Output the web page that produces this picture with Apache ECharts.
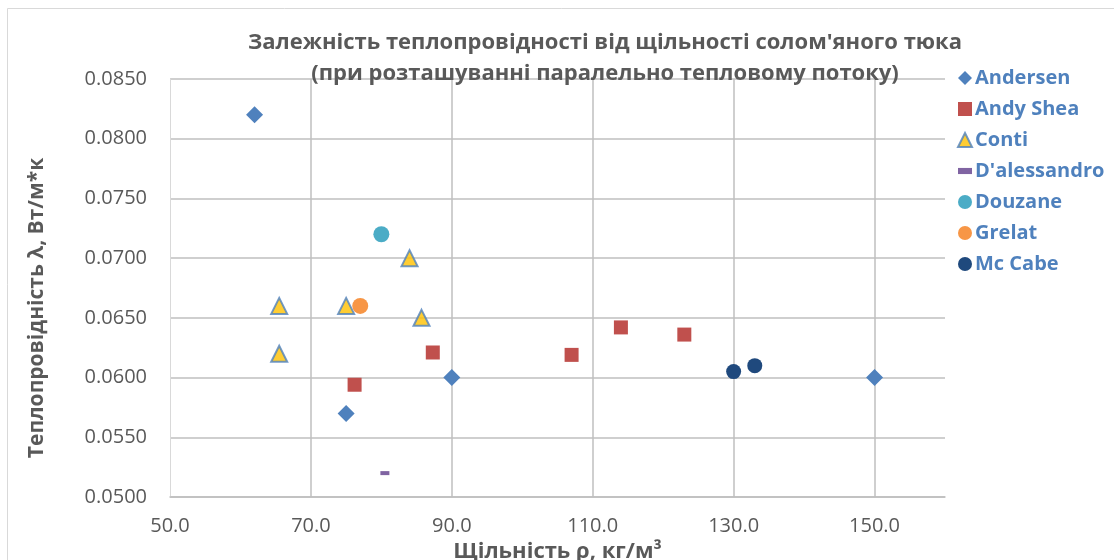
<!DOCTYPE html>
<html>
<head>
<meta charset="utf-8">
<script src="https://cdn.jsdelivr.net/npm/echarts@6/dist/echarts.min.js"></script>
<style>
html,body{margin:0;padding:0;background:#fff;}
#chart{width:1114px;height:560px;}
</style>
</head>
<body>
<div id="chart"></div>
<script>
const andersen = [[62, 0.0820], [75, 0.0570], [90, 0.0600], [150, 0.0600]];
const andyShea = [[76.2, 0.0594], [87.3, 0.0621], [107, 0.0619], [114, 0.0642], [123, 0.0636]];
const conti = [[65.5, 0.0660], [65.5, 0.0620], [75, 0.0660], [84, 0.0700], [85.7, 0.0650]];
const dalessandro = [[80.5, 0.0520]];
const douzane = [[80, 0.0720]];
const grelat = [[77, 0.0660]];
const mcCabe = [[130, 0.0605], [133, 0.0610]];

const titleLines = ["Залежність теплопровідності від щільності солом'яного тюка", "(при розташуванні паралельно тепловому потоку)"];
const xName = "Щільність ρ, кг/м³";
const yName = "Теплопровідність λ, Вт/м*к";

const font = '"Open Sans", sans-serif';
const chart = echarts.init(document.getElementById('chart'), null, {renderer: 'canvas'});

const mk = (name, data, symbol, size, color, extra) => Object.assign({
  name, type: 'scatter', data, symbol, symbolSize: size,
  itemStyle: {color, opacity: 1}, emphasis: {disabled: true}
}, extra || {});

chart.setOption({
  animation: false,
  backgroundColor: '#fff',
  graphic: [{
    type: 'rect', shape: {x: 7.5, y: 8.5, width: 1200, height: 700},
    style: {fill: 'none', stroke: '#D9D9D9', lineWidth: 1}, silent: true
  }],
  title: {
    text: titleLines.join('\n'),
    left: 600, textAlign: 'center', top: 22,
    textStyle: {fontFamily: font, fontWeight: 'bold', fontSize: 22, color: '#595959', lineHeight: 31}
  },
  legend: {
    orient: 'vertical', left: 952, top: 63, itemGap: 11, itemWidth: 14, itemHeight: 14,
    textStyle: {fontFamily: font, fontWeight: 'bold', fontSize: 20, color: '#4F81BD', padding: [0,0,0,-2]},
    data: [
      {name: 'Andersen', icon: 'diamond'},
      {name: 'Andy Shea', icon: 'rect'},
      {name: 'Conti', icon: 'triangle'},
      {name: "D'alessandro", icon: 'path://M0,0H8V3.5H0Z'},
      {name: 'Douzane', icon: 'circle'},
      {name: 'Grelat', icon: 'circle'},
      {name: 'Mc Cabe', icon: 'circle'}
    ]
  },
  grid: {left: 170, right: 169, top: 79, bottom: 63, containLabel: false, outerBoundsMode: 'none'},
  xAxis: {
    type: 'value', min: 50, max: 160, interval: 20,
    name: xName, nameLocation: 'middle', nameGap: 35,
    nameTextStyle: {fontFamily: font, fontWeight: 'bold', fontSize: 22, color: '#595959'},
    axisLine: {show: true, lineStyle: {color: '#BFBFBF', width: 1.5}},
    axisTick: {show: false},
    axisLabel: {margin: 19, fontFamily: font, fontSize: 20, color: '#595959', showMaxLabel: false,
      formatter: v => v.toFixed(1)},
    splitLine: {show: true, showMinLine: false, showMaxLine: false, lineStyle: {color: '#BFBFBF', width: 1.5}}
  },
  yAxis: {
    type: 'value', min: 0.05, max: 0.085, interval: 0.005,
    name: yName, nameLocation: 'middle', nameGap: 122,
    nameTextStyle: {fontFamily: font, fontWeight: 'bold', fontSize: 21, color: '#595959', padding: [0, 40, 0, 0]},
    axisLine: {show: true, lineStyle: {color: '#D9D9D9', width: 1}},
    axisTick: {show: false},
    axisLabel: {margin: 23, fontFamily: font, fontSize: 20, color: '#595959',
      formatter: v => v.toFixed(4)},
    splitLine: {show: true, lineStyle: {color: '#BFBFBF', width: 1.5}}
  },
  series: [
    mk('Andersen', andersen, 'diamond', 17, '#4F81BD'),
    mk('Andy Shea', andyShea, 'rect', 14, '#C0504D'),
    mk('Conti', conti, 'triangle', 16, '#FFC000', {itemStyle: {color: '#FFC000', borderColor: '#4F81BD', borderWidth: 2}}),
    mk("D'alessandro", dalessandro, 'rect', [9, 4], '#8064A2'),
    mk('Douzane', douzane, 'circle', 16, '#4BACC6'),
    mk('Grelat', grelat, 'circle', 16, '#F79646'),
    mk('Mc Cabe', mcCabe, 'circle', 15, '#1F497D')
  ]
});
</script>
</body>
</html>
